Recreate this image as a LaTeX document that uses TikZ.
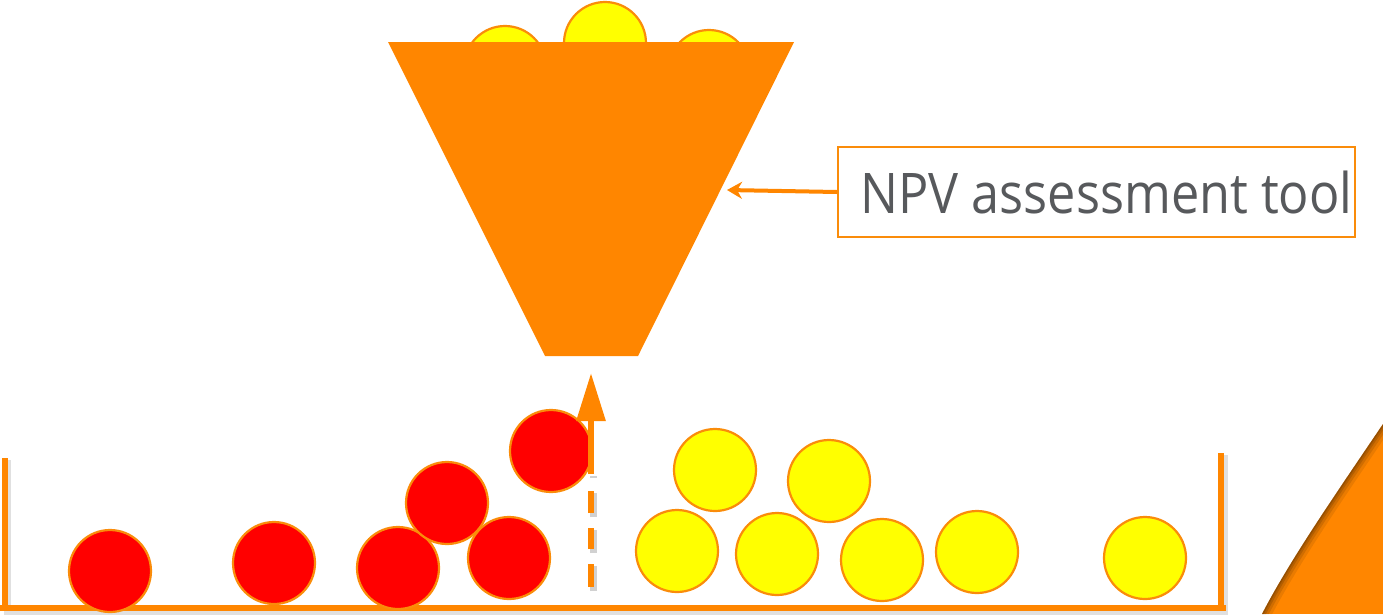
\documentclass[tikz,border=0pt]{standalone}
\usepackage{fontspec}
\newfontfamily\labelfont[FakeStretch=0.90]{Open Sans}
\usetikzlibrary{arrows.meta}
\definecolor{funnelorange}{RGB}{255,134,0}
\definecolor{ballred}{RGB}{255,0,0}
\definecolor{ballyellow}{RGB}{255,255,0}
\definecolor{rimorange}{RGB}{250,140,10}
\definecolor{labelgray}{RGB}{87,89,92}
\tikzset{
  ball/.style={circle, draw=rimorange, line width=2.2pt, minimum size=82pt, inner sep=0pt},
  redball/.style={ball, fill=ballred},
  yellowball/.style={ball, fill=ballyellow},
  binline/.style={draw=funnelorange, line width=5.5pt},
  binshadow/.style={draw=black, opacity=0.12, line width=7pt},
  labelbox/.style={draw=rimorange, line width=2pt, fill=white, minimum width=517pt,
    minimum height=90pt, inner sep=0pt, text=labelgray,
    font=\labelfont\fontsize{56}{62}\selectfont},
}
\begin{document}
\begin{tikzpicture}[x=1pt,y=-1pt]
\useasboundingbox (0,0) rectangle (1383,614);

% balls waiting at the top of the funnel
\node[yellowball] (t1) at (505,67) {};
\node[yellowball] (t2) at (605,43) {};
\node[yellowball] (t3) at (709,71) {};

% the funnel
\fill[funnelorange] (388,42) -- (794,42) -- (638,356) -- (545,356) -- cycle;
\coordinate (funnelEdge) at (727,190);

% label and its pointer
\node[labelbox] (npv) at (1096.5,192) {\hspace*{20pt}NPV assessment tool};
\draw[funnelorange, line width=4pt, -{Stealth[length=15pt,width=17pt]}]
  (npv.west) -- (funnelEdge);

% the bin
\draw[binshadow] (7,460) -- (7,611) -- (1224,611) -- (1224,455);
\draw[binline] (5,458) -- (5,608);
\draw[binline] (1221,453) -- (1221,608);
\draw[binline] (0,608) -- (1226,608);

% red balls
\node[redball] (r1) at (110,571) {};
\node[redball] (r2) at (274,563) {};
\node[redball] (r3) at (398,568) {};
\node[redball] (r4) at (447,503) {};
\node[redball] (r5) at (509,558) {};
\node[redball] (r6) at (551,451) {};

% yellow balls
\node[yellowball] (y1) at (715,470) {};
\node[yellowball] (y2) at (829,481) {};
\node[yellowball] (y3) at (677,551) {};
\node[yellowball] (y4) at (777,554) {};
\node[yellowball] (y5) at (882,560) {};
\node[yellowball] (y6) at (977,552) {};
\node[yellowball] (y7) at (1145,558) {};

% dashed arrow rising towards the funnel
\coordinate (riseStart) at (591,587);
\coordinate (riseTip) at (593,373);
\draw[black, opacity=0.18, line width=7pt,
  dash pattern=on 25 off 13 on 23 off 13 on 24 off 15 on 200]
  (593,591) -- (593,476);
\draw[funnelorange, line width=6pt,
  dash pattern=on 23 off 15 on 21 off 15 on 22 off 17 on 300,
  -{Triangle[length=48pt,width=28pt]}]
  (riseStart) -- (riseStart |- riseTip);

% corner piece at the lower right
\begin{scope}
  \clip (1262,614) .. controls (1290,560) and (1335,495) .. (1383,424)
    -- (1383,614) -- cycle;
  \fill[funnelorange] (1250,400) rectangle (1383,614);
  \foreach \w/\o in {18/0.10,12/0.14,7/0.18,3/0.22}
    \draw[black!80!funnelorange, opacity=\o, line width=\w pt]
      (1262,614) .. controls (1290,560) and (1335,495) .. (1383,424);
\end{scope}
\end{tikzpicture}
\end{document}
